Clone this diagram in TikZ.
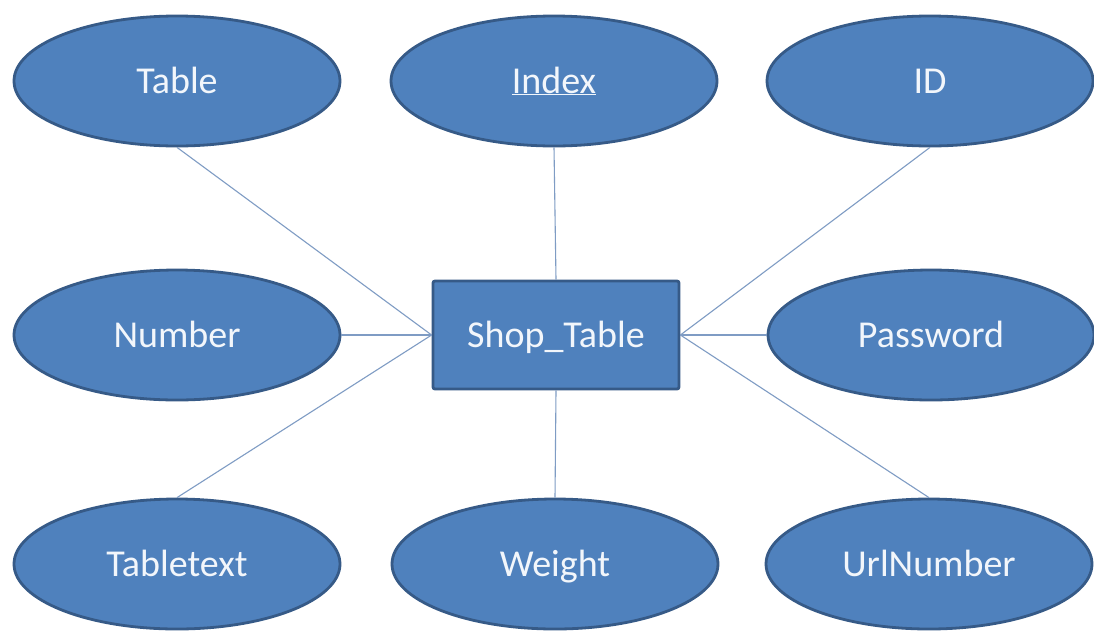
\documentclass[tikz,border=0pt]{standalone}
\usepackage{fontspec}
\setmainfont{Carlito}
\usetikzlibrary{shapes.geometric}
\definecolor{efill}{HTML}{4F81BD}
\definecolor{edraw}{HTML}{365A87}
\definecolor{lnk}{HTML}{7F9CC4}
\definecolor{txt}{HTML}{F2F6FB}
\begin{document}
\begin{tikzpicture}[x=1pt,y=-1pt,
  lbl/.style={text=txt, font=\fontsize{38}{40}\selectfont, text height=24pt, text depth=0pt},
  attr/.style={ellipse, draw=edraw, fill=efill, line width=2.8pt, minimum width=326pt, minimum height=130pt, inner sep=0pt, lbl},
  ent/.style={rectangle, rounded corners=2pt, draw=edraw, fill=efill, line width=2.8pt, minimum width=246pt, minimum height=108pt, inner sep=0pt, lbl},
  conn/.style={draw=lnk, line width=1.1pt}]
\useasboundingbox (0,0) rectangle (1094,630);
\fill[white] (0,0) rectangle (1094,630);
\node[ent] (shop) at (556,335) {Shop\_Table};
\node[attr] (table) at (177,81) {Table};
\node[attr] (index) at (554,81) {\underline{Index}};
\node[attr] (id) at (930,81) {ID};
\node[attr] (number) at (177,335) {Number};
\node[attr] (password) at (931,335) {Password};
\node[attr] (tabletext) at (177,564) {Tabletext};
\node[attr] (weight) at (555,564) {Weight};
\node[attr] (url) at (929,564) {UrlNumber};
\draw[conn] (table.south) -- (shop.west);
\draw[conn] (number.east) -- (shop.west);
\draw[conn] (tabletext.north) -- (shop.west);
\draw[conn] (index.south) -- (shop.north);
\draw[conn] (weight.north) -- (shop.south);
\draw[conn] (id.south) -- (shop.east);
\draw[conn] (password.west) -- (shop.east);
\draw[conn] (url.north) -- (shop.east);
\end{tikzpicture}
\end{document}
